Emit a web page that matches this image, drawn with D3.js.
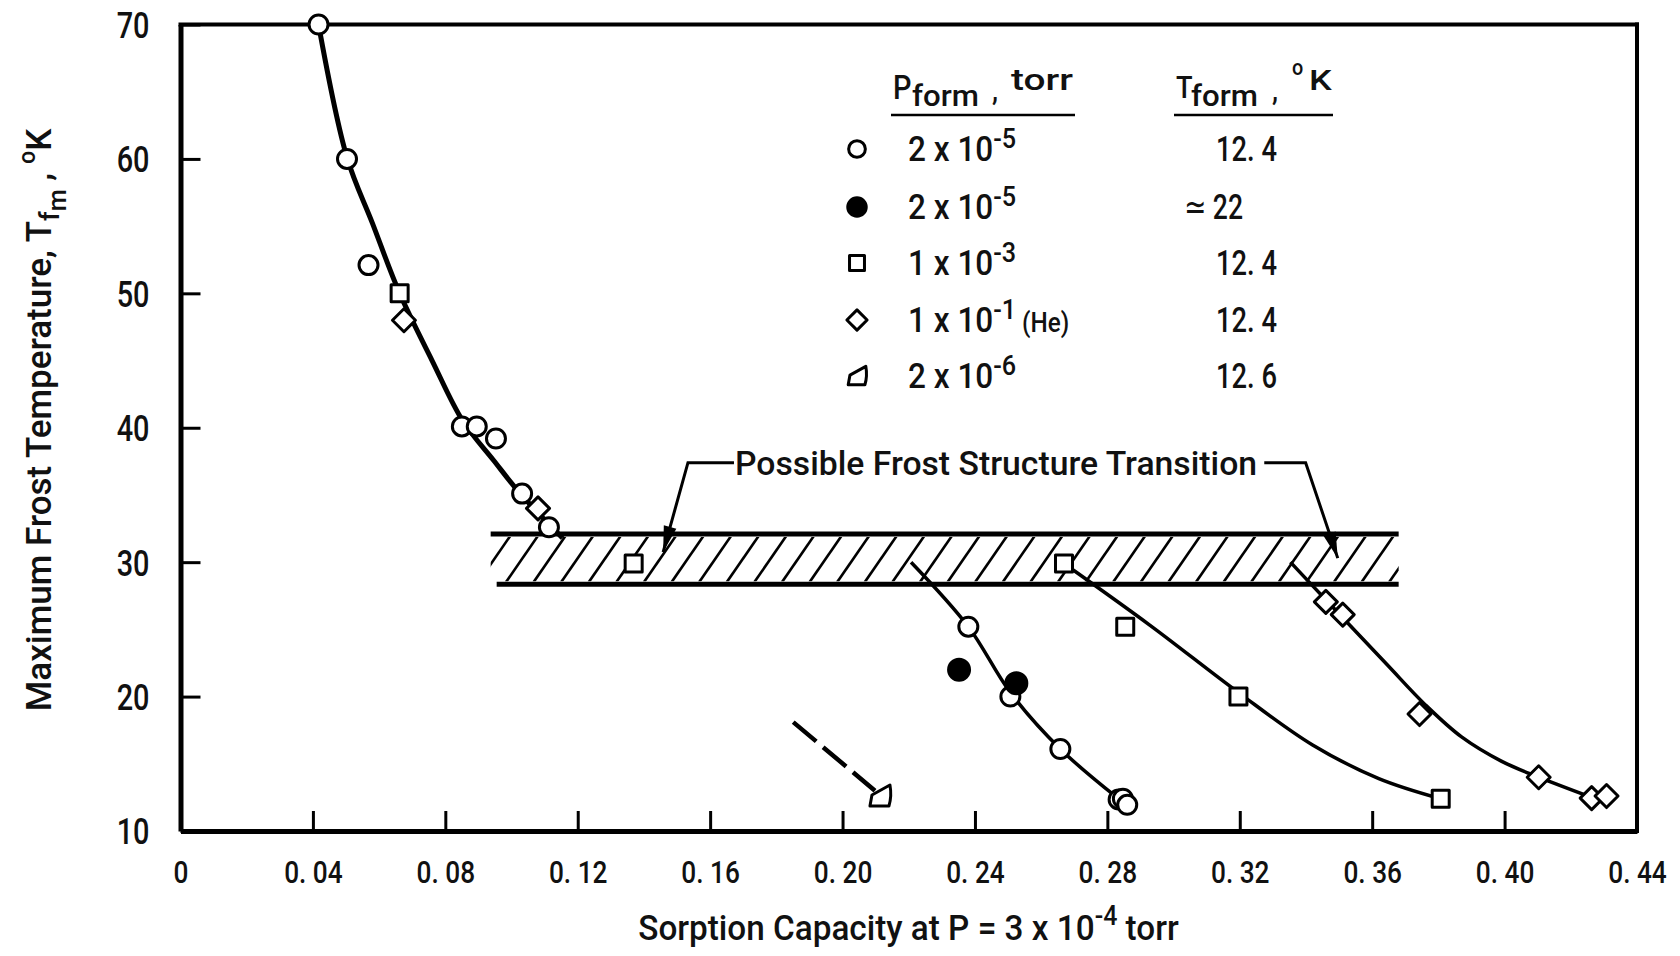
<!DOCTYPE html>
<html><head><meta charset="utf-8">
<script src="https://cdn.jsdelivr.net/npm/d3@7"></script>
<style>
body{margin:0;background:#fff}
svg{display:block}
text{font-family:Roboto,"Liberation Sans","DejaVu Sans",sans-serif;fill:#111;font-weight:500}
</style>
</head><body>
<svg id="chart" width="1680" height="956"></svg>
<script>
// ---------------- data ----------------
const xTickValues = [0,0.04,0.08,0.12,0.16,0.20,0.24,0.28,0.32,0.36,0.40,0.44];
const xTickLabels = ["0","0. 04","0. 08","0. 12","0. 16","0. 20","0. 24","0. 28","0. 32","0. 36","0. 40","0. 44"];
const yTickValues = [10,20,30,40,50,60,70];
const yTickLabels = ["10","20","30","40","50","60","70"];

// P = 2e-5 torr, T = 12.4 K (open circles)
const openCircles = [[0.0417,70],[0.0503,60.0],[0.0568,52.1],[0.0850,40.1],[0.0895,40.1],[0.0953,39.2],
  [0.1032,35.1],[0.1113,32.6],[0.2380,25.2],[0.2507,20.0],[0.2658,16.1],[0.2834,12.35],[0.2847,12.4],[0.2860,11.95]];
// P = 2e-5 torr, T ~ 22 K (filled circles)
const filledCircles = [[0.2352,22.0],[0.2525,21.0]];
// P = 1e-3 torr (squares)
const squares = [[0.0662,50.0],[0.1369,29.9],[0.2669,29.9],[0.2854,25.2],[0.3196,20.0],[0.3807,12.4]];
// P = 1e-1 torr He (diamonds)
const diamonds = [[0.0675,48.0],[0.1080,34.0],[0.3460,27.05],[0.3511,26.1],[0.3743,18.7],[0.4103,14.0],[0.4263,12.45],[0.4308,12.6]];
// P = 2e-6 torr, T = 12.6 K (quarter symbol)
const quarterPoints = [[0.2113,12.6]];
const dashedTrend = [[0.1851,18.1],[0.2098,13.0]];

// faired curves
const curveMain = [[0.0417,70],[0.0503,60.1],[0.0580,55.2],[0.0662,50.0],[0.0760,45.0],[0.0853,40.5],[0.0945,37.6],[0.1030,35.0],[0.1154,31.8]];
const curveCircles = [[0.2207,30.0],[0.2380,25.2],[0.2507,20.3],[0.2658,16.1],[0.2826,12.55]];
const curveSquares = [[0.2669,29.9],[0.2929,25.3],[0.3196,20.3],[0.3420,16.4],[0.3620,13.9],[0.3807,12.4]];
const curveDiamonds = [[0.3353,30.0],[0.3460,27.2],[0.3644,22.4],[0.3760,19.4],[0.3870,17.0],[0.3990,15.2],[0.4103,14.0],[0.4262,12.5]];

// transition band
const bandX = [0.0937,0.368];
const bandY = [28.35,32.1];

// legend
const legendSymbols = ["circle","filled","square","diamond","quarter"];
const legendMantissa = ["2 x 10","2 x 10","1 x 10","1 x 10","2 x 10"];
const legendExponent = ["-5","-5","-3","-1","-6"];
const legendSuffix = ["","","","(He)",""];
const legendTform = ["12. 4","\u2243 22","12. 4","12. 4","12. 6"];

// annotation (data coords)
const annoText = "Possible Frost Structure Transition";
const annoLeft = [[0.1672,37.4],[0.1533,37.4],[0.1458,30.75]];
const annoRight = [[0.3274,37.4],[0.3399,37.4],[0.3496,30.3]];

// ---------------- chart ----------------
const svg = d3.select("#chart");
const x = d3.scaleLinear().domain([0,0.44]).range([180.5,1637]);
const y = d3.scaleLinear().domain([10,70]).range([831,24.5]);
const FONT = 'Roboto,"Liberation Sans","DejaVu Sans",sans-serif';

function txt(parent, o){
  const g = parent.append("g");
  const t = g.append("text").attr("font-size", o.size).attr("text-anchor", o.anchor||"start");
  o.parts.forEach(p=>{
    const ts = t.append("tspan").text(p.t);
    if(p.size) ts.attr("font-size", p.size);
    if(p.dy) ts.attr("dy", p.dy);
  });
  let s = o.sx || 0.8;
  if(o.width){ const w = t.node().getBBox().width; s = o.width / w; }
  g.attr("transform", `translate(${o.x},${o.y})` + (o.rot?` rotate(${o.rot})`:"") + ` scale(${s},1)`);
  return g;
}

// band hatch
const defs = svg.append("defs");
defs.append("clipPath").attr("id","bandclip").append("rect")
  .attr("x", x(bandX[0])).attr("width", x(bandX[1])-x(bandX[0]))
  .attr("y", y(bandY[1])+3).attr("height", y(bandY[0])-y(bandY[1])-6);
const hatchG = svg.append("g").attr("clip-path","url(#bandclip)");
const yb = y(bandY[0]), yt = y(bandY[1]);
const hatchStarts = d3.range(x(bandX[0])-40, x(bandX[1])+10, 27.6);
hatchG.selectAll("line").data(hatchStarts).join("line")
  .attr("x1", d=>d).attr("y1", yb-2).attr("x2", d=>d+32).attr("y2", yt+2)
  .attr("stroke","#000").attr("stroke-width",2.6);
svg.append("line").attr("x1", x(bandX[0])).attr("x2", x(bandX[1])).attr("y1", yt).attr("y2", yt)
  .attr("stroke","#000").attr("stroke-width",5);
svg.append("line").attr("x1", x(bandX[0])+6).attr("x2", x(bandX[1])).attr("y1", yb).attr("y2", yb)
  .attr("stroke","#000").attr("stroke-width",5);

// axes
const xAxis = d3.axisBottom(x).tickValues(xTickValues).tickFormat((d,i)=>xTickLabels[i])
  .tickSizeInner(-20).tickSizeOuter(0).tickPadding(0);
const gx = svg.append("g").attr("transform",`translate(0,${y(10)})`).call(xAxis)
  .attr("font-family", FONT);
gx.select(".domain").attr("stroke","#000").attr("stroke-width",5);
gx.selectAll(".tick line").attr("stroke","#000").attr("stroke-width",3);
gx.selectAll(".tick text").attr("y",0).attr("dy",null).attr("font-size",32).attr("fill","#111")
  .attr("transform","translate(0,52) scale(0.82,1)");

const yAxis = d3.axisLeft(y).tickValues(yTickValues).tickFormat((d,i)=>yTickLabels[i])
  .tickSizeInner(-20).tickSizeOuter(0).tickPadding(0);
const gy = svg.append("g").attr("transform",`translate(${x(0)},0)`).call(yAxis)
  .attr("font-family", FONT);
gy.select(".domain").attr("stroke","#000").attr("stroke-width",5);
gy.selectAll(".tick line").attr("stroke","#000").attr("stroke-width",3);
gy.selectAll(".tick text").attr("x",0).attr("dy","0.35em").attr("font-size",37).attr("fill","#111")
  .attr("text-anchor","end").attr("transform","translate(-31,0) scale(0.78,1)");

// top & right frame
svg.append("line").attr("x1", x(0)-2).attr("x2", x(0.44)+2).attr("y1", y(70)).attr("y2", y(70))
  .attr("stroke","#000").attr("stroke-width",4);
svg.append("line").attr("x1", x(0.44)).attr("x2", x(0.44)).attr("y1", y(70)-2).attr("y2", y(10)+2)
  .attr("stroke","#000").attr("stroke-width",4);

// curves
const line = d3.line().x(d=>x(d[0])).y(d=>y(d[1])).curve(d3.curveCatmullRom.alpha(0.5));
svg.append("path").attr("d", line(curveMain)).attr("fill","none").attr("stroke","#000").attr("stroke-width",5);
[curveCircles, curveSquares, curveDiamonds].forEach(c=>{
  svg.append("path").attr("d", line(c)).attr("fill","none").attr("stroke","#000").attr("stroke-width",3.5);
});
svg.append("path").attr("d", d3.line().x(d=>x(d[0])).y(d=>y(d[1]))(dashedTrend))
  .attr("fill","none").attr("stroke","#000").attr("stroke-width",4.5).attr("stroke-dasharray","30,9");

// markers
function symbolPath(type, k){
  k = k||1;
  if(type==="square"){ const h=8.5*k; return `M${-h},${-h}H${h}V${h}H${-h}Z`; }
  if(type==="diamond"){ const h=11.5*k; return `M0,${-h}L${h},0L0,${h}L${-h},0Z`; }
  if(type==="quarter"){
    return `M ${-10*k} ${10*k} L ${-8*k} ${-1*k} L ${10*k} ${-11*k} Q ${12*k} 0 ${9*k} ${10*k} Z`;
  }
  const r = (type==="filled"?10.5:9.5)*k;
  return `M${r},0A${r},${r} 0 1,1 ${-r},0A${r},${r} 0 1,1 ${r},0Z`;
}
function drawMarkers(data, type){
  svg.append("g").selectAll("path").data(data).join("path")
    .attr("transform", d=>`translate(${x(d[0])},${y(d[1])})`)
    .attr("d", symbolPath(type))
    .attr("fill", type==="filled"?"#000":"#fff").attr("stroke","#000").attr("stroke-width",3)
    .attr("stroke-linejoin","round");
}
drawMarkers(squares,"square");
drawMarkers(diamonds,"diamond");
drawMarkers(openCircles,"circle");
drawMarkers(filledCircles,"filled");
drawMarkers(quarterPoints,"quarter");

// annotation
const la = d3.line().x(d=>x(d[0])).y(d=>y(d[1]));
svg.append("path").attr("d", la(annoLeft)).attr("fill","none").attr("stroke","#000").attr("stroke-width",3);
svg.append("path").attr("d", la(annoRight)).attr("fill","none").attr("stroke","#000").attr("stroke-width",3);
function arrowHead(p0, p1){
  const x0=x(p0[0]), y0=y(p0[1]), x1=x(p1[0]), y1=y(p1[1]);
  const a = Math.atan2(y1-y0, x1-x0), L=26, W=6.5;
  const bx = x1 - L*Math.cos(a), by = y1 - L*Math.sin(a);
  svg.append("path").attr("d", `M${x1},${y1}L${bx + W*Math.sin(a)},${by - W*Math.cos(a)}L${bx - W*Math.sin(a)},${by + W*Math.cos(a)}Z`)
    .attr("fill","#000");
}
arrowHead(annoLeft[1], annoLeft[2]);
arrowHead(annoRight[1], annoRight[2]);
txt(svg, {x: x(annoLeft[0][0])+1, y: y(annoLeft[0][1])+12, size:33, parts:[{t:annoText}],
  width: x(annoRight[0][0]) - x(annoLeft[0][0]) - 8});

// legend
const legG = svg.append("g");
const rowY = [149,207,263,320,376];
const symX = 857, textX = 908;
legendSymbols.forEach((s,i)=>{
  legG.append("path").attr("transform",`translate(${symX},${rowY[i]})`).attr("d", symbolPath(s,0.88))
    .attr("fill", s==="filled"?"#000":"#fff").attr("stroke","#000").attr("stroke-width",3)
    .attr("stroke-linejoin","round");
  const parts = [{t:legendMantissa[i]},{t:legendExponent[i], size:28, dy:-13}];
  if(legendSuffix[i]) parts.push({t:" "+legendSuffix[i], size:27, dy:13});
  txt(legG, {x:textX, y:rowY[i]+12, size:35, parts, sx:0.9});
  const isApprox = legendTform[i].indexOf("\u2243")===0;
  txt(legG, {x: isApprox?1184:1216, y:rowY[i]+12, size:35, parts:[{t:legendTform[i]}], width: isApprox?59:61});
});
// legend headers
txt(legG, {x:893, y:99, size:34, parts:[{t:"P"}], sx:0.85});
txt(legG, {x:912, y:106, size:30, parts:[{t:"form"}], width:67});
txt(legG, {x:992, y:100, size:30, parts:[{t:","}], sx:0.9});
txt(legG, {x:1011, y:90, size:29, parts:[{t:"torr"}], width:62});
txt(legG, {x:1176, y:98, size:32, parts:[{t:"T"}], sx:0.85});
txt(legG, {x:1191, y:106, size:30, parts:[{t:"form"}], width:67});
txt(legG, {x:1272, y:100, size:30, parts:[{t:","}], sx:0.9});
txt(legG, {x:1292, y:75, size:22, parts:[{t:"o"}], sx:0.9});
txt(legG, {x:1309, y:90, size:27, parts:[{t:"K"}], width:24});
legG.append("line").attr("x1",891).attr("x2",1075).attr("y1",115).attr("y2",115).attr("stroke","#000").attr("stroke-width",2.5);
legG.append("line").attr("x1",1174).attr("x2",1333).attr("y1",115).attr("y2",115).attr("stroke","#000").attr("stroke-width",2.5);

// axis titles
txt(svg, {x: 908.5, y: 940, size:36, anchor:"middle", width: 541,
  parts:[{t:"Sorption Capacity at P = 3 x 10"},{t:"-4", size:27, dy:-15},{t:" torr", size:36, dy:15}]});
txt(svg, {x: 51, y: 420, size:36, anchor:"middle", width: 583, rot:-90,
  parts:[{t:"Maximum Frost Temperature, T"},{t:"f", size:28, dy:8},{t:"m", size:26, dy:7},
         {t:" , ", size:36, dy:-15},{t:"o", size:24, dy:-16},{t:"K", size:36, dy:16}]});
</script>
</body></html>
